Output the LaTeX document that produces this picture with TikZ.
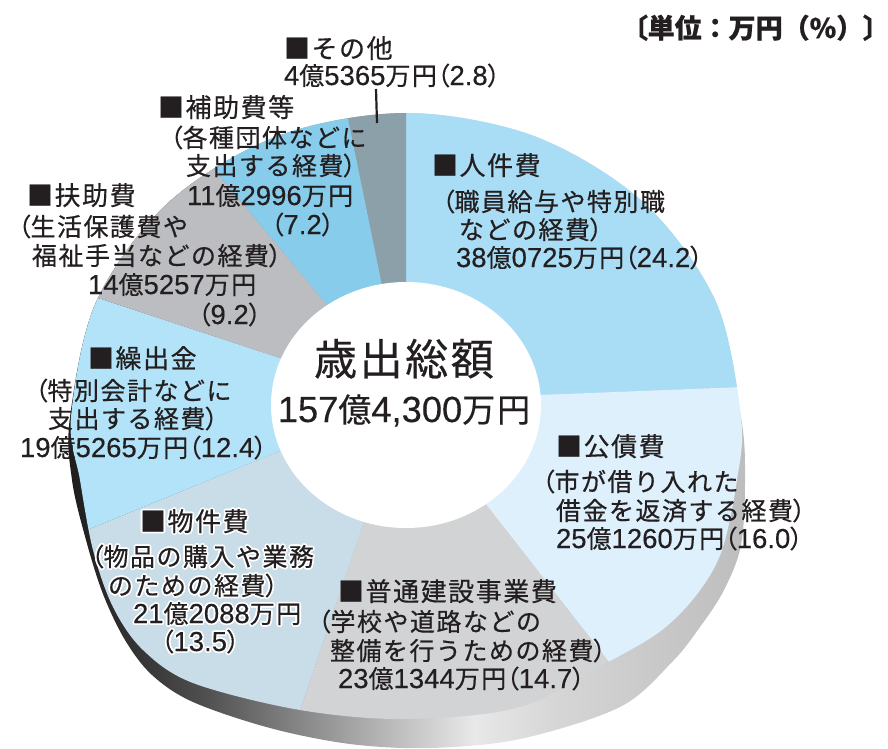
\documentclass[tikz,border=0pt]{standalone}
\usepackage{fontspec}
\setmainfont{Noto Sans CJK JP}[LetterSpace=6, FakeBold=0.5]
\newfontfamily\numfont{Liberation Sans}[Scale=1.1, FakeBold=0.3]
\newfontfamily\unitfont{Noto Sans CJK JP}[FakeBold=0.5]
\usetikzlibrary{calc}

\definecolor{cJinken}{HTML}{A9DDF6}
\definecolor{cKosai}{HTML}{DDF0FB}
\definecolor{cFutsu}{HTML}{D2D3D5}
\definecolor{cBukken}{HTML}{C9DDE8}
\definecolor{cKuri}{HTML}{B3E3F8}
\definecolor{cFujo}{HTML}{BCBDC0}
\definecolor{cHojo}{HTML}{87CDEB}
\definecolor{cSonota}{HTML}{8CA0AA}
\definecolor{txt}{HTML}{231F20}
\definecolor{rimA}{HTML}{1C1C1C}
\definecolor{rimB}{HTML}{383838}
\definecolor{rimC}{HTML}{4E4E4E}
\definecolor{rimD}{HTML}{858585}
\definecolor{rimE}{HTML}{BBBBBB}
\definecolor{rimF}{HTML}{E8E8E9}
\definecolor{rimG}{HTML}{D6D6D7}
\definecolor{rimH}{HTML}{BDBDBE}

\pgfdeclarehorizontalshading{rimshade}{100bp}{color(0bp)=(rimA); color(25bp)=(rimA); color(31bp)=(rimB); color(35bp)=(rimC); color(42bp)=(rimD); color(49bp)=(rimE); color(55bp)=(rimF); color(61bp)=(rimG); color(75bp)=(rimH); color(100bp)=(rimH)}

\newcommand\LP{{\addfontfeature{RawFeature=+palt}（}}
\newcommand\RP{{\addfontfeature{RawFeature=+palt}）}}
\newcommand\LB{{\addfontfeature{RawFeature=+palt}〔}}
\newcommand\RB{{\addfontfeature{RawFeature=+palt}〕}}
\newcommand\nm[1]{{\numfont #1}}
\newcommand\bodyfs{\fontsize{25}{29}\selectfont}
\newcommand\headfs{\fontsize{26}{30}\selectfont}

\newlength\halorad
\setlength\halorad{1.8pt}
\newcommand\halo[1]{\leavevmode\rlap{\color{white}%
 \rlap{\hspace*{\halorad}#1}\rlap{\hspace*{-\halorad}#1}%
 \rlap{\raisebox{\halorad}{#1}}\rlap{\raisebox{-\halorad}{#1}}%
 \rlap{\hspace*{0.7\halorad}\raisebox{0.7\halorad}{#1}}\rlap{\hspace*{-0.7\halorad}\raisebox{0.7\halorad}{#1}}%
 \rlap{\hspace*{0.7\halorad}\raisebox{-0.7\halorad}{#1}}\rlap{\hspace*{-0.7\halorad}\raisebox{-0.7\halorad}{#1}}}#1}

\tikzset{
 body/.style={anchor=base west, inner sep=0pt, outer sep=0pt, text=txt, font=\bodyfs},
 head/.style={anchor=base west, inner sep=0pt, outer sep=0pt, text=txt, font=\headfs},
 leader/.style={line width=2.2pt, draw=txt},
}

\begin{document}
\begin{tikzpicture}[x=1pt,y=-1pt]
\useasboundingbox (0,0) rectangle (888,748);

% 3D rim
\shade[shading=rimshade] plot[smooth cycle, tension=0.55] coordinates {
 (406,113) (534,136) (643,202) (715.5,301) (741,417) (745,480) (741,545) (724,590)
 (700,627) (672,662) (620,707) (520,739) (430,748) (350,744) (270,728) (193,702)
 (152,675) (125,640) (103,594) (86,540) (72,480) (70,417) (96.5,301) (169,202) (278,136)};

% slice boundary points
\coordinate (C) at (406,405);
\coordinate (i0) at (406,283); \coordinate (o0) at (406,113);
\coordinate (i1) at (540,395); \coordinate (o1) at (741,387);
\coordinate (i2) at (485,503); \coordinate (o2) at (609,662);
\coordinate (i3) at (364,522); \coordinate (o3) at (300,710);
\coordinate (i4) at (275,453); \coordinate (o4) at (92,528);
\coordinate (i5) at (280,358); \coordinate (o5) at (98,298);
\coordinate (i6) at (327,305); \coordinate (o6) at (210,164);
\coordinate (i7) at (382,285); \coordinate (o7) at (348,118);
\foreach \k in {0,...,7}{\coordinate (f\k) at ($(i\k)!4!(o\k)$);}

\begin{scope}
\clip plot[smooth cycle, tension=0.55] coordinates {
 (406,113) (534,136) (643,202) (715.5,301) (741,417) (737,480) (722,550) (698,593)
 (662,630) (610,661) (520,707) (406,719) (300,710) (193,683) (143,650) (113,607)
 (93,550) (80,480) (71,417) (96.5,301) (169,202) (278,136)};
\fill[cJinken] (C) -- (i0) -- (f0) -- (f1) -- (i1) -- cycle;
\fill[cKosai]  (C) -- (i1) -- (f1) -- (f2) -- (i2) -- cycle;
\fill[cFutsu]  (C) -- (i2) -- (f2) -- (f3) -- (i3) -- cycle;
\fill[cBukken] (C) -- (i3) -- (f3) -- (f4) -- (i4) -- cycle;
\fill[cKuri]   (C) -- (i4) -- (f4) -- (f5) -- (i5) -- cycle;
\fill[cFujo]   (C) -- (i5) -- (f5) -- (f6) -- (i6) -- cycle;
\fill[cHojo]   (C) -- (i6) -- (f6) -- (f7) -- (i7) -- cycle;
\fill[cSonota] (C) -- (i7) -- (f7) -- (f0) -- (i0) -- cycle;
\end{scope}

% hole
\fill[white] (406,405) ellipse [x radius=135pt, y radius=123pt];

% centre
\node[anchor=base, inner sep=0pt, text=txt, font=\fontsize{43}{48}\selectfont] (title) at (404,375) {歳出総額};
\node[anchor=base, inner sep=0pt, text=txt, font=\fontsize{33}{36}\selectfont] (total) at (404,422) {\nm{157}億\nm{4,300}万円};

% unit
\node[anchor=base east, inner sep=0pt, text=txt, font=\unitfont\fontsize{27}{30}\selectfont\bfseries] (unit) at (877,38) {\LB 単位：万円（\%）\RB};

% その他
\node[head] (sonotaH) at (284,58) {■その他};
\node[body] (sonota1) at (284,85) {\nm{4}億\nm{5365}万円\LP\nm{2.8}\RP};
\coordinate (ldTop) at (376,89);
\coordinate (ldBot) at (377,123);
\draw[leader] (ldTop) -- (ldBot);

% 補助費等
\node[head] (hojoH) at (158,117) {■補助費等};
\node[body] (hojo1) at (170,147) {\LP 各種団体などに};
\node[body] (hojo2) at (186,175) {支出する経費\RP};
\node[body] (hojo3) at (187,205) {\nm{11}億\nm{2996}万円};
\node[body] (hojo4) at (271,234) {\LP\nm{7.2}\RP};

% 扶助費
\node[head] (fujoH) at (27,205) {■扶助費};
\node[body] (fujo1) at (18,236) {\LP 生活保護費や};
\node[body] (fujo2) at (32,265) {福祉手当などの経費\RP};
\node[body] (fujo3) at (88,294) {\nm{14}億\nm{5257}万円};
\node[body] (fujo4) at (198,324) {\LP\nm{9.2}\RP};

% 繰出金
\node[head] (kuriH) at (88,368) {■繰出金};
\node[body] (kuri1) at (35,400) {\LP 特別会計などに};
\node[body] (kuri2) at (48,428) {支出する経費\RP};
\node[body] (kuri3) at (20,457) {\nm{19}億\nm{5265}万円\LP\nm{12.4}\RP};

% 物件費
\node[head] (bukkenH) at (140,531) {\halo{■物件費}};
\node[body] (bukken1) at (91,566) {\halo{\LP 物品の購入や業務}};
\node[body] (bukken2) at (108,595) {\halo{のための経費\RP}};
\node[body] (bukken3) at (133,623) {\halo{\nm{21}億\nm{2088}万円}};
\node[body] (bukken4) at (161,651) {\halo{\LP\nm{13.5}\RP}};

% 普通建設事業費
\node[head] (futsuH) at (338,601) {■普通建設事業費};
\node[body] (futsu1) at (318,631) {\LP 学校や道路などの};
\node[body] (futsu2) at (330,660) {整備を行うための経費\RP};
\node[body] (futsu3) at (338,688) {\nm{23}億\nm{1344}万円\LP\nm{14.7}\RP};

% 公債費
\node[head] (kosaiH) at (556,456) {■公債費};
\node[body] (kosai1) at (542,491) {\LP 市が借り入れた};
\node[body] (kosai2) at (556,520) {借金を返済する経費\RP};
\node[body] (kosai3) at (556,548) {\nm{25}億\nm{1260}万円\LP\nm{16.0}\RP};

% 人件費
\node[head] (jinkenH) at (432,175) {■人件費};
\node[body] (jinken1) at (442,211) {\LP 職員給与や特別職};
\node[body] (jinken2) at (459,239) {などの経費\RP};
\node[body] (jinken3) at (456,267) {\nm{38}億\nm{0725}万円\LP\nm{24.2}\RP};
\end{tikzpicture}
\end{document}
